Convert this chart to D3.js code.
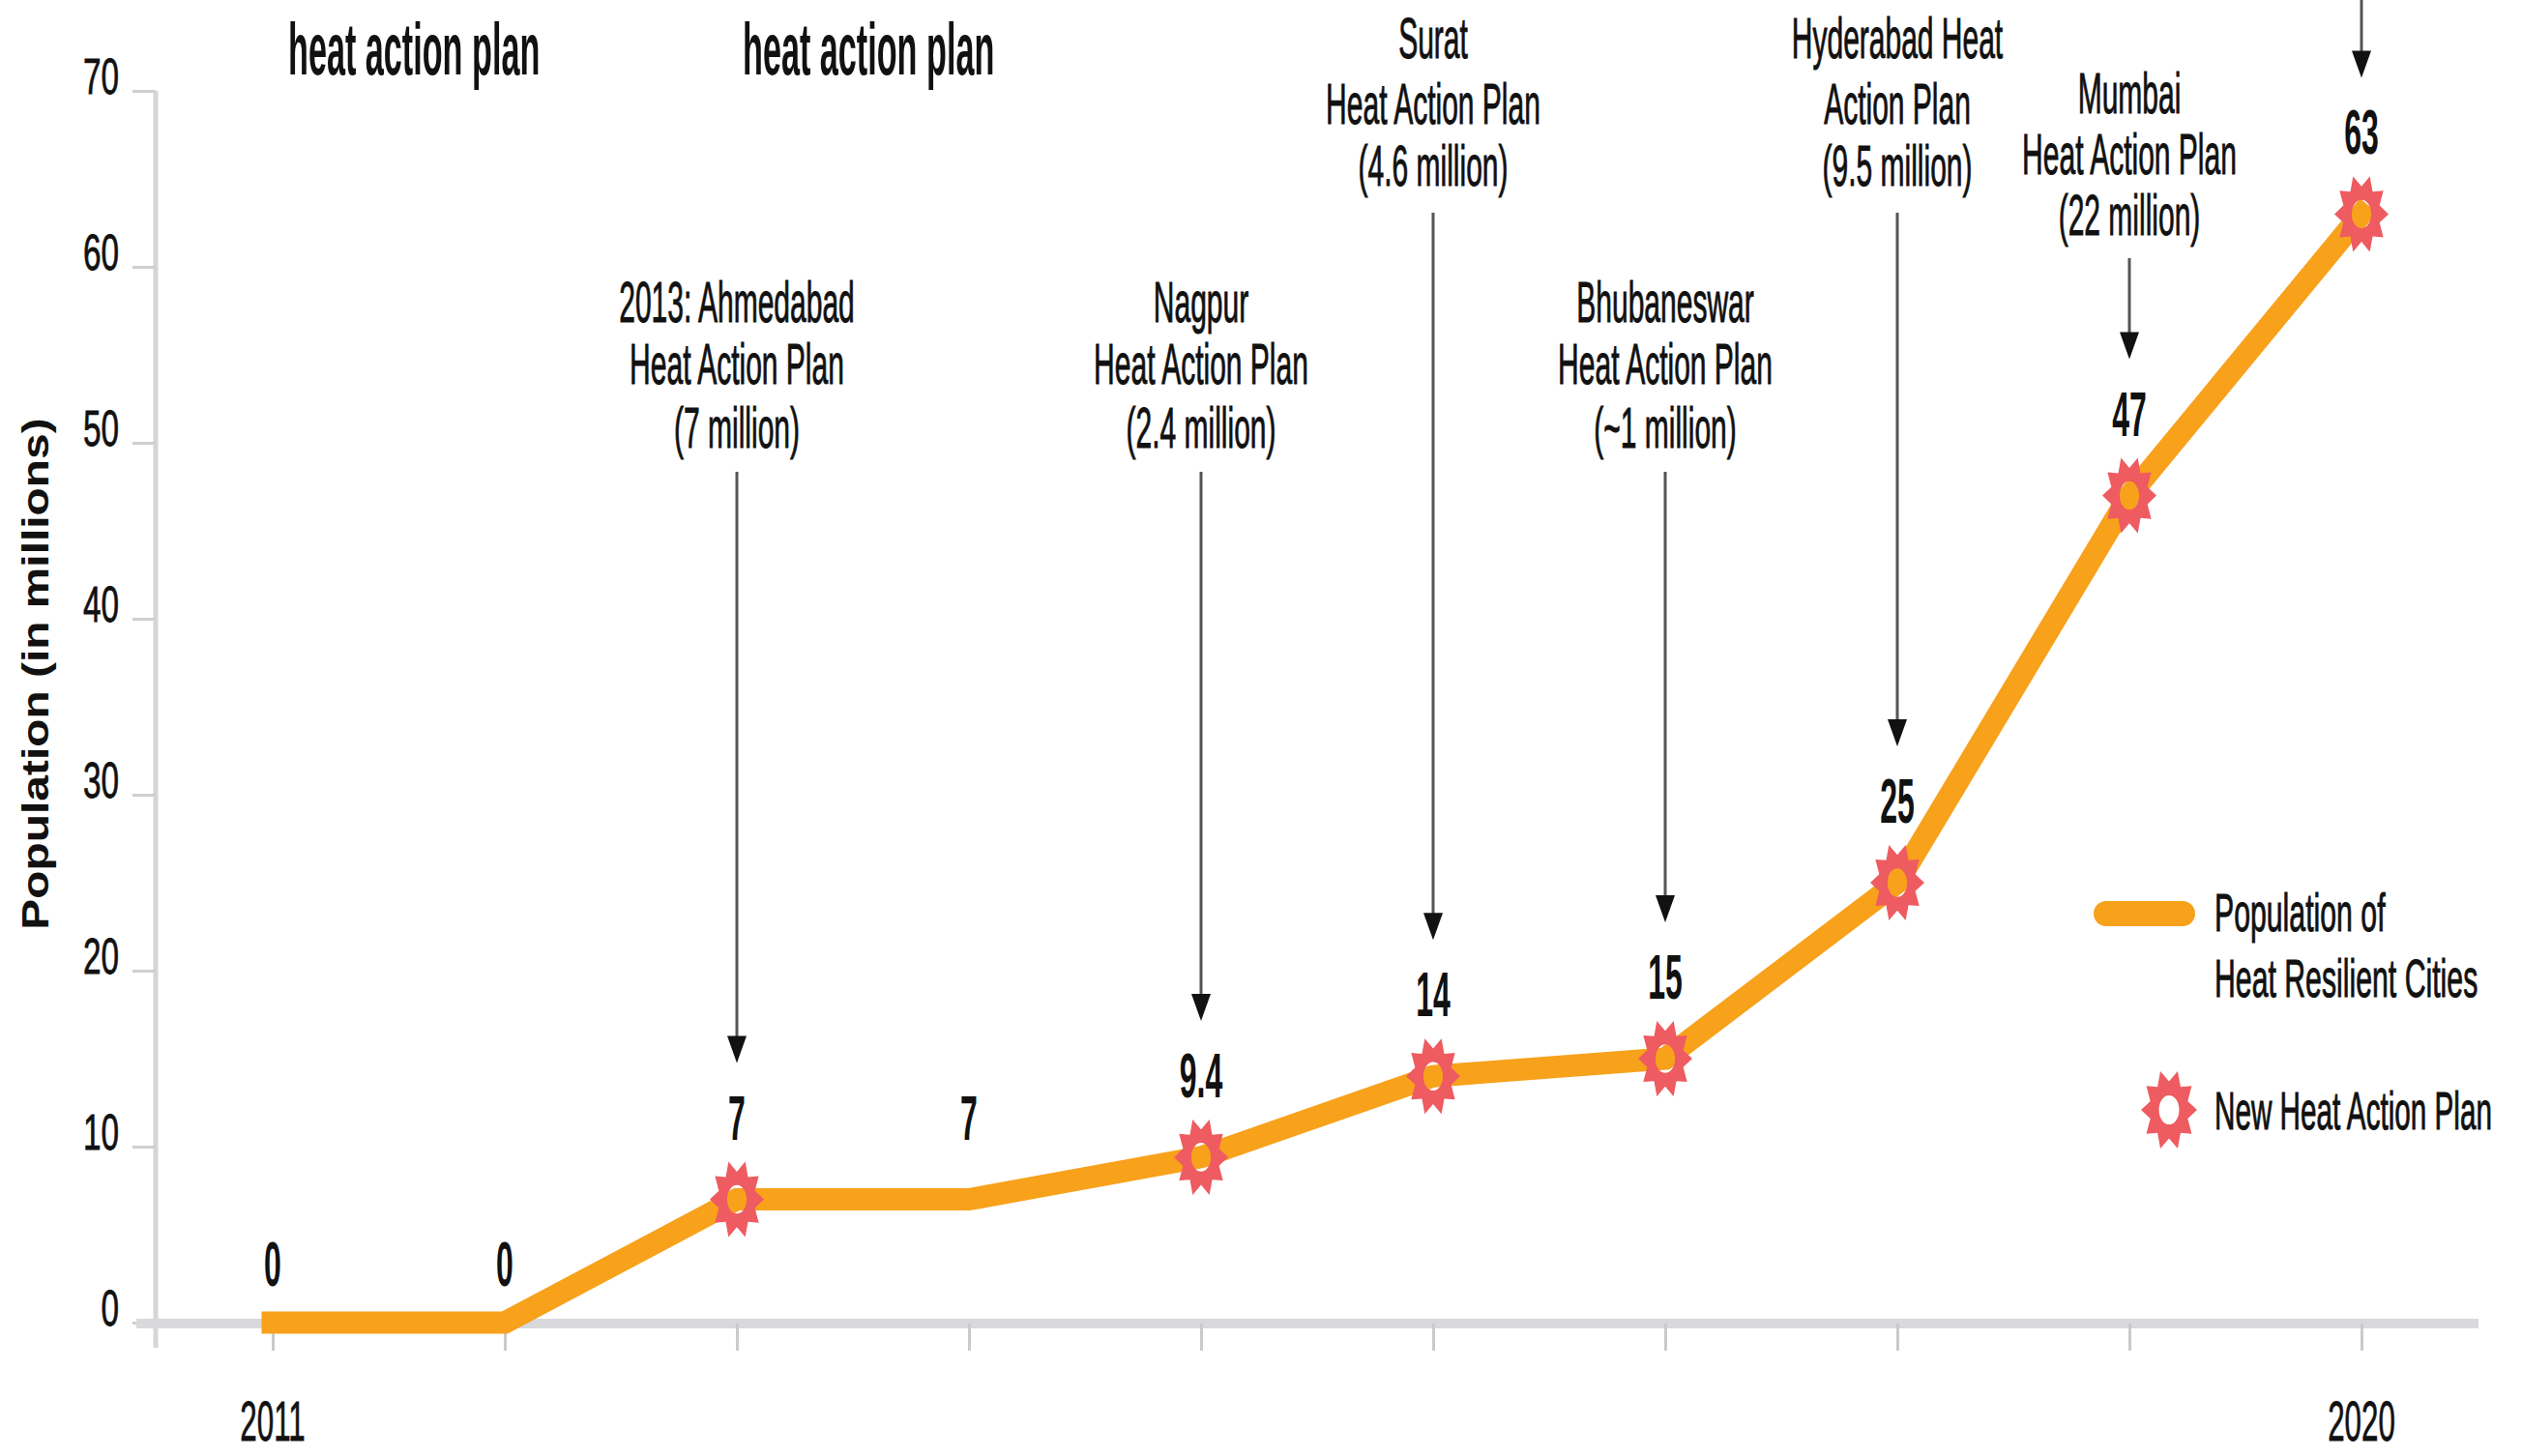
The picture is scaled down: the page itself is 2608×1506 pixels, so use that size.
<!DOCTYPE html>
<html>
<head>
<meta charset="utf-8">
<script src="https://cdn.jsdelivr.net/npm/d3@7"></script>
<style>
  body { margin: 0; background: #ffffff; }
  svg { display: block; }
  text { font-family: "Liberation Sans", Arial, sans-serif; fill: #111; }
</style>
</head>
<body>
<svg id="chart" width="2608" height="1506"></svg>
<script>
// ---------------- DATA ----------------
const years = [2011, 2012, 2013, 2014, 2015, 2016, 2017, 2018, 2019, 2020];
const population = [0, 0, 7, 7, 9.4, 14, 15, 25, 47, 63];
const valueLabels = ["0", "0", "7", "7", "9.4", "14", "15", "25", "47", "63"];
const newPlanYears = [2013, 2015, 2016, 2017, 2018, 2019, 2020];
const yTickValues = [0, 10, 20, 30, 40, 50, 60, 70];
const xLabelYears = [2011, 2020];
const xLabelTexts = ["2011", "2020"];
const annotationYears = [2013, 2015, 2016, 2017, 2018, 2019, 2020];
const annotationTexts = [
  ["2013: Ahmedabad", "Heat Action Plan", "(7 million)"],
  ["Nagpur", "Heat Action Plan", "(2.4 million)"],
  ["Surat", "Heat Action Plan", "(4.6 million)"],
  ["Bhubaneswar", "Heat Action Plan", "(~1 million)"],
  ["Hyderabad Heat", "Action Plan", "(9.5 million)"],
  ["Mumbai", "Heat Action Plan", "(22 million)"],
  []
];
const headingTexts = ["heat action plan", "heat action plan"];
const yAxisTitle = "Population (in millions)";
const legendLineLabels = ["Population of", "Heat Resilient Cities"];
const legendStarLabel = "New Heat Action Plan";

// ---------------- LAYOUT / STYLE ----------------
const ORANGE = "#f8a11b";
const STAR = "#ee5b60";
const svg = d3.select("#chart");

const x = d3.scaleLinear().domain([2011, 2020]).range([282, 2442]);
const y = d3.scaleLinear().domain([0, 70]).range([1368, 94]);

// annotation tiers (layout only)
const tierOf = ["low", "low", "high", "low", "high", "mid", "top"];
const tiers = {
  low:  { base: [333, 397, 463], start: 488 },
  high: { base: [60, 128, 192], start: 220 },
  mid:  { base: [117, 180, 243], start: 267 },
  top:  { base: [], start: -10 }
};
const headingX = [298, 768];

function ctext(g, px, py, str, o) {
  const t = g.append("text")
    .attr("transform", `translate(${px},${py}) scale(${o.sx},1)`)
    .attr("text-anchor", o.anchor || "middle")
    .attr("font-size", o.size)
    .attr("font-weight", o.weight || "normal")
    .text(str);
  if (o.stroke) t.attr("stroke", "#111").attr("stroke-width", o.stroke);
  return t;
}

function starPath(cx, cy, rx, ry, n, inner, hole) {
  const pts = [];
  for (let i = 0; i < n * 2; i++) {
    const a = (Math.PI / n) * i;
    const r = i % 2 === 0 ? 1 : inner;
    pts.push([cx + Math.cos(a) * rx * r, cy - Math.sin(a) * ry * r]);
  }
  let d = "M" + pts.map(p => p[0].toFixed(2) + "," + p[1].toFixed(2)).join("L") + "Z";
  const hx = rx * hole, hy = ry * hole;
  d += `M${cx + hx},${cy}A${hx},${hy} 0 1,0 ${cx - hx},${cy}A${hx},${hy} 0 1,0 ${cx + hx},${cy}Z`;
  return d;
}

// ---------------- AXES ----------------
const axisG = svg.append("g");
axisG.append("line")
  .attr("x1", 161).attr("x2", 161)
  .attr("y1", y(70)).attr("y2", y(0) + 26)
  .attr("stroke", "#d6d6d6").attr("stroke-width", 5);
const yAxis = d3.axisLeft(y).tickValues(yTickValues).tickSize(24).tickFormat("");
const yAxG = axisG.append("g").attr("transform", "translate(161,0)").call(yAxis);
yAxG.select(".domain").remove();
yAxG.selectAll(".tick line").attr("stroke", "#cfcfcf").attr("stroke-width", 3);
const ytl = axisG.append("g");
yTickValues.forEach(v => {
  ctext(ytl, 123, y(v) + 3, String(v), { size: 52, sx: 0.64, anchor: "end", stroke: 0.8 });
});
axisG.append("line")
  .attr("x1", 141).attr("x2", 2563)
  .attr("y1", y(0) + 1).attr("y2", y(0) + 1)
  .attr("stroke", "#d9d9dc").attr("stroke-width", 10);
const xAxis = d3.axisBottom(x).tickValues(years).tickSize(28).tickFormat("");
const xAxG = axisG.append("g").attr("transform", `translate(0,${y(0) + 1})`).call(xAxis);
xAxG.select(".domain").remove();
xAxG.selectAll(".tick line").attr("stroke", "#cacaca").attr("stroke-width", 3);
xLabelYears.forEach((yr, i) => {
  ctext(axisG, x(yr), 1490, xLabelTexts[i], { size: 58, sx: 0.54, stroke: 0.8 });
});
svg.append("text")
  .attr("transform", `translate(50,697) rotate(-90) scale(1.26,1)`)
  .attr("text-anchor", "middle")
  .attr("font-size", 38)
  .attr("font-weight", "bold")
  .attr("fill", "#1a1a1a")
  .text(yAxisTitle);

// ---------------- LINE ----------------
const pts = years.map((yr, i) => ({ year: yr, value: population[i], label: valueLabels[i] }));
const line = d3.line().x(d => x(d.year)).y(d => y(d.value));
svg.append("path")
  .datum(pts)
  .attr("d", line)
  .attr("fill", "none")
  .attr("stroke", ORANGE)
  .attr("stroke-width", 23)
  .attr("stroke-linecap", "square")
  .attr("stroke-linejoin", "miter");

// ---------------- STARS ----------------
svg.append("g").selectAll("path")
  .data(pts.filter(d => newPlanYears.includes(d.year)))
  .join("path")
  .attr("d", d => starPath(x(d.year), y(d.value), 28, 41, 10, 0.7, 0.36))
  .attr("fill", STAR)
  .attr("fill-rule", "evenodd");

// ---------------- VALUE LABELS ----------------
const vl = svg.append("g");
pts.forEach(d => {
  const off = d.value === 0 ? 38 : 62;
  ctext(vl, x(d.year), y(d.value) - off, d.label, { size: 64, sx: 0.5, weight: "bold" });
});

// ---------------- ANNOTATIONS ----------------
const ag = svg.append("g");
annotationYears.forEach((yr, i) => {
  const t = tiers[tierOf[i]];
  const cx = x(yr);
  const v = population[years.indexOf(yr)];
  const tip = y(v) - 141;
  annotationTexts[i].forEach((s, k) => {
    ctext(ag, cx, t.base[k], s, { size: 60, sx: 0.5, stroke: 1 });
  });
  ag.append("line")
    .attr("x1", cx).attr("x2", cx)
    .attr("y1", t.start).attr("y2", tip - 20)
    .attr("stroke", "#555").attr("stroke-width", 3);
  ag.append("path")
    .attr("d", `M${cx - 10},${tip - 28}L${cx + 10},${tip - 28}L${cx},${tip}Z`)
    .attr("fill", "#111");
});

headingTexts.forEach((s, i) => {
  ctext(svg, headingX[i], 77, s, { size: 76, sx: 0.45, weight: "bold", anchor: "start" });
});

// ---------------- LEGEND ----------------
const lg = svg.append("g");
lg.append("line")
  .attr("x1", 2178).attr("x2", 2257)
  .attr("y1", 945).attr("y2", 945)
  .attr("stroke", ORANGE).attr("stroke-width", 26)
  .attr("stroke-linecap", "round");
ctext(lg, 2290, 963, legendLineLabels[0], { size: 56, sx: 0.54, anchor: "start", stroke: 1 });
ctext(lg, 2290, 1031, legendLineLabels[1], { size: 56, sx: 0.54, anchor: "start", stroke: 1 });
lg.append("path")
  .attr("d", starPath(2243, 1148, 29, 42, 10, 0.7, 0.36))
  .attr("fill", STAR).attr("fill-rule", "evenodd");
ctext(lg, 2290, 1168, legendStarLabel, { size: 56, sx: 0.53, anchor: "start", stroke: 1 });
</script>
</body>
</html>
